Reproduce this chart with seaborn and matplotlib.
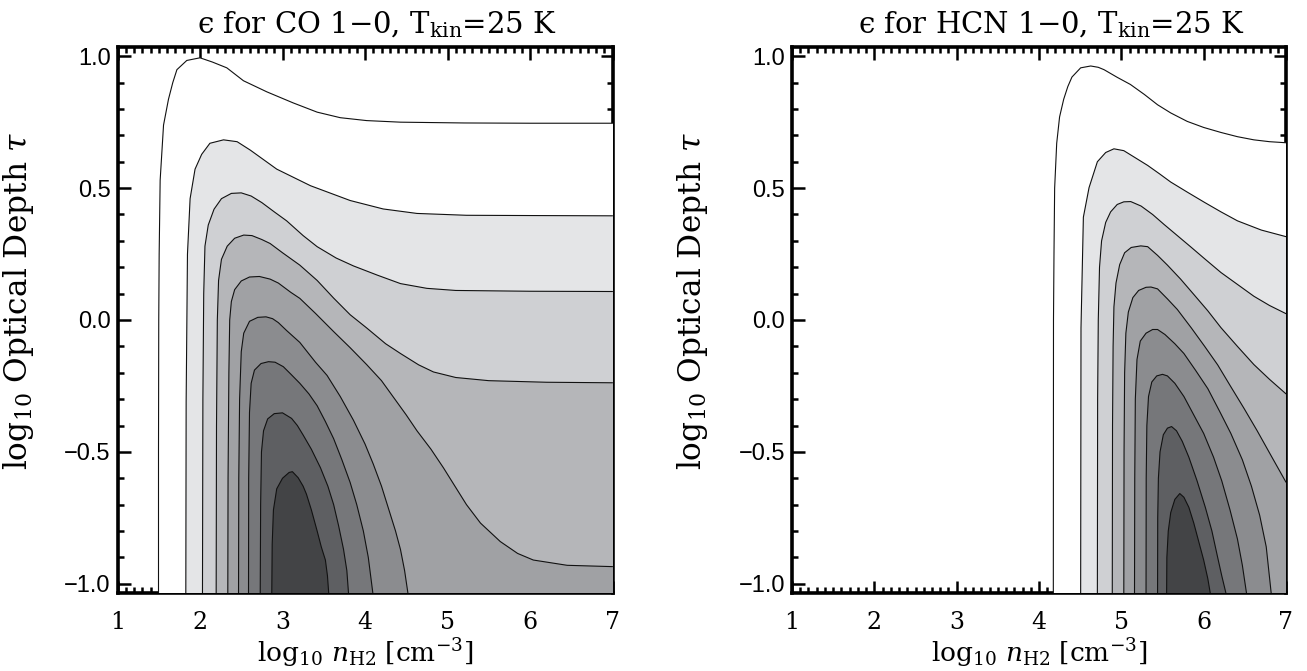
import matplotlib
matplotlib.use("Agg")
import matplotlib.pyplot as plt
import seaborn as sns
from matplotlib.ticker import FixedLocator, MultipleLocator

# ---------------- data ----------------
X_TICKS = [1, 2, 3, 4, 5, 6, 7]
X_TICK_LABELS = ["1", "2", "3", "4", "5", "6", "7"]
Y_TICKS = [-1.0, -0.5, 0.0, 0.5, 1.0]
Y_TICK_LABELS = ["\u22121.0", "\u22120.5", "0.0", "0.5", "1.0"]

# fill shade inside each contour level (outermost -> innermost)
LEVEL_GRAYS = ["#ffffff", "#e4e5e7", "#cfd0d3", "#b5b6b9", "#a0a1a4",
               "#8b8c8f", "#76777a", "#5e5f62", "#434446"]

TITLES = ["\u03f5 for CO 1\u22120, T$_{\\rm kin}$=25 K",
          "\u03f5 for HCN 1\u22120, T$_{\\rm kin}$=25 K"]
X_LABEL = r"log$_{10}$ $n_{\rm H2}$ [cm$^{-3}$]"
Y_LABEL = r"log$_{10}$ Optical Depth $\tau$"

# contour outlines for CO 1-0 (log n, log tau)
co_c1 = [(1.497, -1.035), (1.497, -0.5), (1.50, 0.0), (1.505, 0.25), (1.517, 0.53),
         (1.558, 0.739), (1.618, 0.837), (1.67, 0.90), (1.72, 0.949), (1.84, 0.984),
         (2.00, 0.994), (2.15, 0.978), (2.325, 0.956), (2.527, 0.907), (2.81, 0.865),
         (3.13, 0.823), (3.42, 0.788), (3.70, 0.767), (4.02, 0.756), (4.43, 0.750),
         (5.2, 0.747), (6.0, 0.746), (7.0, 0.746)]
co_c2 = [(1.828, -1.035), (1.832, -0.31), (1.848, 0.25), (1.88, 0.46), (1.94, 0.572),
         (2.02, 0.628), (2.12, 0.67), (2.285, 0.683), (2.45, 0.676), (2.61, 0.644),
         (2.93, 0.572), (3.34, 0.509), (3.82, 0.453), (4.22, 0.421), (4.63, 0.404),
         (5.23, 0.397), (6.0, 0.396), (7.0, 0.395)]
co_c3 = [(2.03, -1.035), (2.035, -0.3), (2.045, 0.1), (2.06, 0.28), (2.10, 0.36),
         (2.17, 0.42), (2.26, 0.46), (2.38, 0.48), (2.50, 0.482), (2.62, 0.47),
         (2.75, 0.445), (2.90, 0.41), (3.05, 0.376), (3.25, 0.32), (3.42, 0.278),
         (3.65, 0.235), (3.86, 0.205), (4.15, 0.17), (4.43, 0.138), (4.75, 0.12),
         (5.1, 0.112), (6.0, 0.109), (7.0, 0.108)]
co_c4 = [(2.196, -1.035), (2.20, -0.4), (2.21, 0.0), (2.225, 0.15), (2.26, 0.23),
         (2.33, 0.28), (2.42, 0.31), (2.53, 0.322), (2.63, 0.32), (2.75, 0.305),
         (2.85, 0.29), (3.0, 0.255), (3.21, 0.208), (3.42, 0.15), (3.62, 0.083),
         (3.82, 0.02), (4.02, -0.03), (4.25, -0.09), (4.43, -0.127), (4.65, -0.17),
         (4.83, -0.197), (5.1, -0.218), (5.5, -0.23), (6.2, -0.236), (7.0, -0.238)]
co_c5 = [(2.337, -1.035), (2.34, -0.6), (2.35, -0.2), (2.36, 0.0), (2.38, 0.07),
         (2.42, 0.115), (2.50, 0.148), (2.60, 0.163), (2.72, 0.165), (2.85, 0.155),
         (2.95, 0.14), (3.10, 0.105), (3.21, 0.082), (3.40, 0.025), (3.62, -0.044),
         (3.82, -0.105), (4.02, -0.169), (4.20, -0.23), (4.35, -0.295), (4.50, -0.36),
         (4.63, -0.42), (4.80, -0.49), (4.95, -0.56), (5.10, -0.635), (5.23, -0.70),
         (5.40, -0.77), (5.64, -0.84), (5.85, -0.885), (6.04, -0.91), (6.45, -0.93),
         (7.0, -0.935)]
co_c6 = [(2.467, -1.035), (2.47, -0.6), (2.48, -0.3), (2.50, -0.12), (2.53, -0.05),
         (2.60, -0.005), (2.70, 0.01), (2.80, 0.012), (2.88, 0.005), (2.95, -0.01),
         (3.05, -0.04), (3.21, -0.085), (3.40, -0.16), (3.54, -0.21), (3.70, -0.29),
         (3.86, -0.38), (4.00, -0.47), (4.10, -0.546), (4.20, -0.63), (4.30, -0.73),
         (4.37, -0.80), (4.43, -0.87), (4.48, -0.95), (4.52, -1.035)]
co_c7 = [(2.588, -1.035), (2.59, -0.6), (2.60, -0.35), (2.62, -0.24), (2.66, -0.19),
         (2.74, -0.165), (2.83, -0.158), (2.91, -0.16), (3.01, -0.177), (3.10, -0.205),
         (3.21, -0.24), (3.32, -0.28), (3.42, -0.325), (3.52, -0.385), (3.62, -0.45),
         (3.72, -0.53), (3.82, -0.616), (3.90, -0.70), (3.98, -0.80), (4.04, -0.90),
         (4.095, -1.035)]
co_c8 = [(2.73, -1.035), (2.735, -0.7), (2.745, -0.5), (2.77, -0.42), (2.82, -0.375),
         (2.90, -0.355), (3.00, -0.352), (3.11, -0.373), (3.18, -0.40), (3.25, -0.436),
         (3.35, -0.49), (3.46, -0.56), (3.55, -0.63), (3.62, -0.70), (3.68, -0.78),
         (3.74, -0.87), (3.78, -0.95), (3.80, -1.035)]
co_c9 = [(2.87, -1.035), (2.875, -0.85), (2.89, -0.72), (2.93, -0.64), (3.00, -0.60),
         (3.08, -0.578), (3.12, -0.575), (3.19, -0.598), (3.25, -0.63), (3.29, -0.66),
         (3.35, -0.72), (3.42, -0.80), (3.47, -0.86), (3.52, -0.91), (3.545, -0.97),
         (3.56, -1.035)]

# contour outlines for HCN 1-0
hcn_c1 = [(4.174, -1.035), (4.176, 0.0), (4.182, 0.25), (4.19, 0.5), (4.215, 0.67),
          (4.25, 0.77), (4.30, 0.837), (4.35, 0.885), (4.40, 0.921), (4.506, 0.956),
          (4.628, 0.963), (4.72, 0.958), (4.79, 0.949), (4.95, 0.92), (5.11, 0.893),
          (5.28, 0.855), (5.44, 0.816), (5.60, 0.785), (5.80, 0.753), (6.0, 0.73),
          (6.21, 0.711), (6.41, 0.695), (6.61, 0.683), (6.80, 0.676), (7.0, 0.672)]
hcn_c2 = [(4.506, -1.035), (4.51, -0.03), (4.539, 0.39), (4.608, 0.502), (4.709, 0.60),
          (4.81, 0.635), (4.91, 0.649), (5.03, 0.642), (5.17, 0.615), (5.32, 0.586),
          (5.46, 0.555), (5.60, 0.523), (5.80, 0.485), (6.01, 0.446), (6.21, 0.41),
          (6.41, 0.376), (6.70, 0.341), (7.0, 0.316)]
hcn_c3 = [(4.709, -1.035), (4.712, -0.3), (4.72, 0.0), (4.735, 0.2), (4.76, 0.3),
          (4.81, 0.37), (4.87, 0.41), (4.95, 0.438), (5.03, 0.448), (5.114, 0.449),
          (5.24, 0.432), (5.38, 0.40), (5.52, 0.362), (5.68, 0.32), (5.84, 0.278),
          (6.02, 0.23), (6.21, 0.18), (6.41, 0.135), (6.61, 0.09), (6.80, 0.055),
          (7.0, 0.024)]
hcn_c4 = [(4.89, -1.035), (4.893, -0.4), (4.90, -0.1), (4.91, 0.05), (4.935, 0.14),
          (4.98, 0.21), (5.04, 0.255), (5.12, 0.275), (5.236, 0.281), (5.32, 0.278),
          (5.44, 0.245), (5.56, 0.208), (5.72, 0.155), (5.88, 0.097), (6.05, 0.035),
          (6.21, -0.029), (6.41, -0.10), (6.61, -0.169), (6.80, -0.225), (7.0, -0.28)]
hcn_c5 = [(5.03, -1.035), (5.033, -0.5), (5.04, -0.2), (5.055, -0.05), (5.085, 0.03),
          (5.14, 0.085), (5.21, 0.112), (5.30, 0.124), (5.36, 0.125), (5.44, 0.118),
          (5.56, 0.08), (5.68, 0.04), (5.85, -0.03), (6.01, -0.099), (6.17, -0.17),
          (6.33, -0.253), (6.49, -0.335), (6.65, -0.42), (6.82, -0.515), (7.0, -0.615)]
hcn_c6 = [(5.16, -1.035), (5.163, -0.6), (5.17, -0.3), (5.19, -0.15), (5.23, -0.08),
          (5.30, -0.05), (5.38, -0.036), (5.44, -0.036), (5.53, -0.055), (5.65, -0.09),
          (5.76, -0.127), (5.90, -0.19), (6.05, -0.26), (6.20, -0.35), (6.33, -0.43),
          (6.47, -0.53), (6.58, -0.63), (6.68, -0.74), (6.76, -0.86), (6.82, -1.035)]
hcn_c7 = [(5.30, -1.035), (5.302, -0.6), (5.31, -0.4), (5.33, -0.29), (5.37, -0.235),
          (5.43, -0.212), (5.50, -0.206), (5.56, -0.212), (5.65, -0.24), (5.76, -0.29),
          (5.88, -0.36), (6.00, -0.43), (6.12, -0.52), (6.22, -0.61), (6.32, -0.72),
          (6.41, -0.83), (6.47, -0.93), (6.52, -1.035)]
hcn_c8 = [(5.44, -1.035), (5.442, -0.75), (5.45, -0.6), (5.47, -0.5), (5.51, -0.435),
          (5.56, -0.41), (5.61, -0.404), (5.67, -0.42), (5.74, -0.46), (5.82, -0.52),
          (5.92, -0.61), (6.02, -0.71), (6.10, -0.80), (6.17, -0.90), (6.22, -0.97),
          (6.27, -1.035)]
hcn_c9 = [(5.55, -1.035), (5.553, -0.9), (5.57, -0.8), (5.60, -0.73), (5.65, -0.68),
          (5.71, -0.658), (5.76, -0.672), (5.82, -0.71), (5.88, -0.77), (5.94, -0.84),
          (6.00, -0.91), (6.05, -0.98), (6.08, -1.035)]

CO_CONTOURS = [co_c1, co_c2, co_c3, co_c4, co_c5, co_c6, co_c7, co_c8, co_c9]
HCN_CONTOURS = [hcn_c1, hcn_c2, hcn_c3, hcn_c4, hcn_c5, hcn_c6, hcn_c7, hcn_c8, hcn_c9]

X_LIM = (1.0, 7.0)
Y_LIM = (-1.035, 1.035)

# ---------------- style ----------------
sns.set_style("ticks")
plt.rcParams["font.family"] = ["DejaVu Serif"]
plt.rcParams["mathtext.fontset"] = "dejavuserif"
for key in ["text.color", "axes.labelcolor", "xtick.color", "ytick.color",
            "axes.edgecolor"]:
    plt.rcParams[key] = "black"

fig = plt.figure(figsize=(13.07, 6.71), dpi=100)
W, H = 1307.0, 671.0
ax1 = fig.add_axes([117.5 / W, 78 / H, 495 / W, 546 / H])
ax2 = fig.add_axes([792 / W, 78 / H, 494 / W, 546 / H])


def draw_panel(ax, contours, title):
    ax.set_xlim(*X_LIM)
    ax.set_ylim(*Y_LIM)
    ax.set_axisbelow(True)
    for i, (pts, shade) in enumerate(zip(contours, LEVEL_GRAYS)):
        xs = [p[0] for p in pts]
        ys = [p[1] for p in pts]
        if xs[-1] >= X_LIM[1]:
            px = xs + [X_LIM[1] + 0.3, X_LIM[1] + 0.3, xs[0]]
            py = ys + [ys[-1], Y_LIM[0] - 0.3, Y_LIM[0] - 0.3]
        else:
            px = xs + [xs[-1], xs[0]]
            py = ys + [Y_LIM[0] - 0.3, Y_LIM[0] - 0.3]
        ax.fill(px, py, color=shade, lw=0, zorder=3 + 0.01 * i)
    for pts in contours:
        xs = [p[0] for p in pts]
        ys = [p[1] for p in pts]
        sns.lineplot(x=xs, y=ys, sort=False, estimator=None, color="#111111",
                     lw=0.8, ax=ax, zorder=4)

    for s in ax.spines.values():
        s.set_linewidth(2.6)
        s.set_color("black")
        s.set_visible(True)

    ax.xaxis.set_major_locator(FixedLocator(X_TICKS))
    ax.xaxis.set_minor_locator(MultipleLocator(0.1))
    ax.yaxis.set_major_locator(FixedLocator(Y_TICKS))
    ax.yaxis.set_minor_locator(MultipleLocator(0.1))
    ax.tick_params(which="both", direction="in", top=True, right=True,
                   bottom=True, left=True, width=1.8, color="black",
                   labelcolor="black")
    ax.tick_params(which="major", length=9)
    ax.tick_params(which="minor", length=4.5)
    ax.tick_params(axis="x", pad=13)
    ax.tick_params(axis="y", pad=5)
    ax.set_xticklabels(X_TICK_LABELS, fontsize=17, family="DejaVu Serif")
    ax.set_yticklabels(Y_TICK_LABELS, fontsize=17, family="Liberation Sans")

    ax.set_title(title, fontsize=21, pad=10, color="black", x=0.525)
    ax.set_xlabel(X_LABEL, fontsize=19, color="black")
    ax.set_ylabel(Y_LABEL, fontsize=22.5, color="black")
    ax.xaxis.set_label_coords(0.5, -0.08)
    ax.yaxis.set_label_coords(-0.165, 0.535)


draw_panel(ax1, CO_CONTOURS, TITLES[0])
draw_panel(ax2, HCN_CONTOURS, TITLES[1])

fig.savefig("out.png", dpi=100)
